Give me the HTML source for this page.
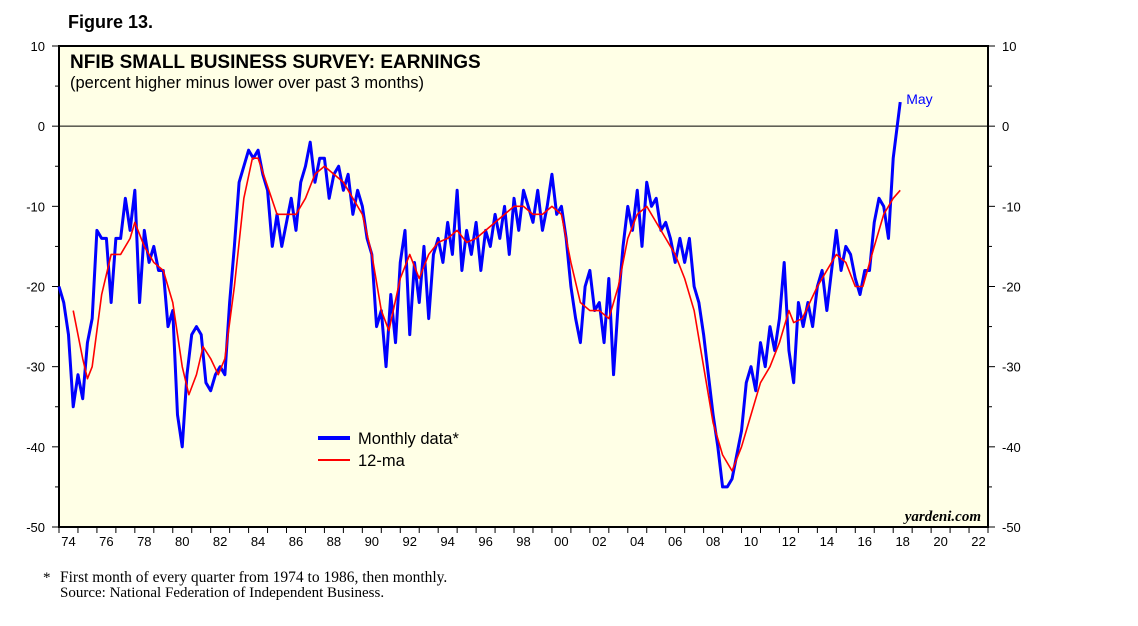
<!DOCTYPE html>
<html><head><meta charset="utf-8"><style>
body{margin:0;background:#fff;width:1138px;height:621px;overflow:hidden}
svg text{font-family:"Liberation Sans",sans-serif}
</style></head><body>
<svg id="c" width="1138" height="621">
<text x="68" y="28" font-size="18" font-weight="bold">Figure 13.</text>
<rect x="59" y="46" width="929" height="481" fill="#FFFFE6" stroke="#000" stroke-width="2"/>
<g id="axes"></g>
<g id="series"></g>
<text x="70" y="68" font-size="19" font-weight="bold">NFIB SMALL BUSINESS SURVEY: EARNINGS</text>
<text x="70" y="88" font-size="16.5">(percent higher minus lower over past 3 months)</text>
<line x1="318" y1="438" x2="350" y2="438" stroke="#0000FF" stroke-width="4"/>
<text x="358" y="444" font-size="16.5">Monthly data*</text>
<line x1="318" y1="460" x2="350" y2="460" stroke="#FF0000" stroke-width="2"/>
<text x="358" y="466" font-size="16.5">12-ma</text>
<text x="981" y="521" font-size="15" font-weight="bold" font-style="italic" text-anchor="end" style="font-family:'Liberation Serif',serif">yardeni.com</text>
<text x="43" y="582" font-size="15" style="font-family:'Liberation Serif',serif">*</text>
<text x="60" y="582" font-size="15.5" style="font-family:'Liberation Serif',serif">First month of every quarter from 1974 to 1986, then monthly.</text>
<text x="60" y="597" font-size="15" style="font-family:'Liberation Serif',serif">Source: National Federation of Independent Business.</text>
</svg>
<script>
const yTicks=[10,0,-10,-20,-30,-40,-50];
const xYearLabels=['74','76','78','80','82','84','86','88','90','92','94','96','98','00','02','04','06','08','10','12','14','16','18','20','22'];
const monthlyDates=[];
const monthlyValues=[-20,-22,-26,-35,-31,-34,-27,-24,-13,-14,-14,-22,-14,-14,-9,-13,-8,-22,-13,-17,-15,-18,-18,-25,-23,-36,-40,-31,-26,-25,-26,-32,-33,-31,-30,-31,-22,-15,-7,-5,-3,-4,-3,-6,-8,-15,-11,-15,
-12,-9,-13,-7,-5,-2,-7,-4,-4,-9,-6,-5,-8,-6,-11,-8,-10,-14,-16,-25,-23,-30,-21,-27,-17,-13,-26,-17,-22,-15,-24,-16,-14,-17,-12,-16,-8,-18,-13,-16,-12,-18,-13,-15,-11,-14,-10,-16,-9,-13,-8,-10,-12,-8,-13,-10,
-6,-11,-10,-14,-20,-24,-27,-20,-18,-23,-22,-27,-19,-31,-22,-15,-10,-13,-8,-15,-7,-10,-9,-13,-12,-14,-17,-14,-17,-14,-20,-22,-26,-31,-36,-40,-45,-45,-44,-41,-38,-32,-30,-33,-27,-30,-25,-28,-24,-17,-28,-32,-22,-25,-22,-25,-20,-18,-23,-18,-13,-18,-15,-16,-19,-21,-18,-18,-12,-9,-10,-14,-4,3];
for(let i=0;i<monthlyValues.length;i++) monthlyDates.push(1974+i*0.25);
monthlyDates[monthlyDates.length-1]=2018.37;
const maDates=[1974.75,1975.25,1975.5,1975.75,1976.25,1976.75,1977.25,1977.75,1978,1978.5,1979,1979.5,1980,1980.5,1980.85,1981.25,1981.6,1982,1982.4,1982.75,1983.25,1983.75,1984.2,1984.5,1985,1985.5,1986,1986.5,1987,1987.5,1988,1988.5,1989,1989.5,1990,1990.5,1991,1991.4,1992,1992.5,1993,1993.5,1994,1994.5,1995,1995.5,1996,1996.5,1997,1997.5,1998,1998.5,1999,1999.5,2000,2000.5,2001,2001.5,2002,2002.5,2003,2003.5,2004,2004.5,2005,2005.5,2006,2006.5,2007,2007.5,2008,2008.5,2009,2009.5,2010,2010.5,2011,2011.5,2012,2012.5,2012.75,2013.2,2013.6,2014,2014.5,2015,2015.5,2016,2016.4,2017,2017.5,2018,2018.37];
const maValues=[-23,-29,-31.5,-30,-21,-16,-16,-14,-12,-15,-17,-18,-22,-30,-33.5,-31,-27.5,-29,-31,-29,-20,-9,-4,-4,-7.5,-11,-11,-11,-9,-6,-5,-6,-7,-9,-11,-16,-23,-25.5,-19,-16,-19,-16,-14.5,-14,-13,-14.5,-14,-13,-12,-11,-10,-10,-11,-11,-10,-11,-17,-22,-23,-23,-24,-20,-14,-11,-10,-12,-14,-16,-19,-23,-30,-37,-41,-43,-40,-36,-32,-30,-27,-23,-24.5,-24,-22,-20,-18,-16,-17,-20,-20,-15,-11,-9,-8];
const NS='http://www.w3.org/2000/svg';
const X0=59,X1=988,Y0=46,Y1=527,T0=1974,T1=2023,V0=10,V1=-50;
const xs=t=>X0+(t-T0)/(T1-T0)*(X1-X0);
const ys=v=>Y0+(V0-v)/(V0-V1)*(Y1-Y0);
function mk(tag,attrs,parent){const e=document.createElementNS(NS,tag);for(const k in attrs)e.setAttribute(k,attrs[k]);parent.appendChild(e);return e;}
const ax=document.getElementById('axes'),sr=document.getElementById('series');
for(let v=10;v>=-50;v-=5){const y=ys(v),L=v%10===0?7:4;
 const t1=mk('line',{x1:X0-L,y1:y,x2:X0,y2:y,stroke:'#000'},ax);
 
 
 const t2=mk('line',{x1:X1,y1:y,x2:X1+L,y2:y,stroke:'#000'},ax);
 
 
}
yTicks.forEach(v=>{const y=ys(v)+5;
 const a=mk('text',{x:45,y:y,'font-size':13,'text-anchor':'end'},ax);a.textContent=v;
 
 
 const b=mk('text',{x:1002,y:y,'font-size':13},ax);b.textContent=v;
 
 
});
const zl=mk('line',{x1:X0,y1:ys(0),x2:X1,y2:ys(0),stroke:'#000','stroke-width':1},ax);


for(let yr=T0;yr<=T1;yr++){const x=xs(yr);
 const t=mk('line',{x1:x,y1:Y1,x2:x,y2:Y1+6,stroke:'#000'},ax);
 
 
}
xYearLabels.forEach((lb,i)=>{const yr=T0+2*i;
 const t=mk('text',{x:xs(yr+0.5),y:Y1+19,'font-size':13,'text-anchor':'middle'},ax);t.textContent=lb;
 
 
});
const pb=mk('polyline',{points:monthlyDates.map((t,i)=>xs(t)+','+ys(monthlyValues[i])).join(' '),fill:'none',stroke:'#0000FF','stroke-width':3,'stroke-linejoin':'round'},sr);


const pr=mk('polyline',{points:maDates.map((t,i)=>xs(t)+','+ys(maValues[i])).join(' '),fill:'none',stroke:'#FF0000','stroke-width':1.6,'stroke-linejoin':'round'},sr);


const li=monthlyValues.length-1;
const may=mk('text',{x:xs(monthlyDates[li])+6,y:ys(monthlyValues[li])+2,'font-size':14,fill:'#0000FF'},sr);may.textContent='May';


</script>
</body></html>
